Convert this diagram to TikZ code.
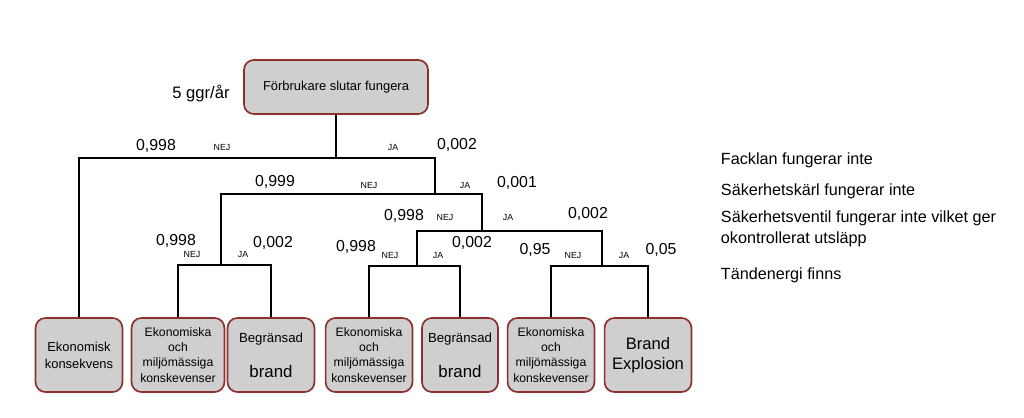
\documentclass[tikz,border=0pt]{standalone}
\usepackage{fontspec}
\setmainfont{Liberation Sans}
\usetikzlibrary{positioning}
\definecolor{boxfill}{HTML}{CFCFCF}
\definecolor{boxedge}{HTML}{8E2F2F}

\begin{document}
\begin{tikzpicture}[x=0.025cm,y=-0.025cm,
  outcome/.style={draw=boxedge,line width=1.2pt,fill=boxfill,rounded corners=7pt,minimum width=2.17cm,minimum height=1.85cm,align=center,inner sep=1pt,font=\fontsize{8.7}{10.8}\selectfont},
  prob/.style={font=\fontsize{11.3}{13}\selectfont},
  answer/.style={font=\fontsize{6.3}{7}\selectfont},
  event/.style={anchor=west,align=left,font=\fontsize{11.5}{14.5}\selectfont},
  branch/.style={line width=1.1pt}]
  \useasboundingbox (0,0) rectangle (1024,418);

  % top event
  \node[outcome,minimum width=4.6cm,minimum height=1.35cm,font=\fontsize{9.2}{11}\selectfont] (start) at (336,87) {Förbrukare slutar fungera};
  \node[prob,font=\fontsize{11.8}{13}\selectfont] (freq) at (201,94) {5 ggr/år};

  % outcomes
  \node[outcome,font=\fontsize{9.2}{11}\selectfont] (cons1) at (79,355) {Ekonomisk\\[1pt]konsekvens};
  \node[outcome,minimum width=2.32cm] (cons2) at (178,355) {Ekonomiska\\och\\miljömässiga\\konskevenser};
  \node[outcome] (fire1) at (271,355) {{\fontsize{9.4}{11}\selectfont Begränsad}\\[14pt]{\fontsize{12}{14}\selectfont brand}};
  \node[outcome] (cons3) at (369,355) {Ekonomiska\\och\\miljömässiga\\konskevenser};
  \node[outcome,minimum width=1.9cm] (fire2) at (460,355) {{\fontsize{9.4}{11}\selectfont Begränsad}\\[14pt]{\fontsize{12}{14}\selectfont brand}};
  \node[outcome] (cons4) at (551,355) {Ekonomiska\\och\\miljömässiga\\konskevenser};
  \node[outcome,font=\fontsize{11.8}{14}\selectfont] (blast) at (648,355) {Brand\\Explosion};

  % branch points
  \coordinate (j1) at (336,158);
  \coordinate (j2) at (435,194);
  \coordinate (j3) at (221,265);
  \coordinate (j4) at (482,231);
  \coordinate (j5) at (417,266);
  \coordinate (j6) at (602,266);

  \draw[branch] (start) -- (j1);
  \draw[branch] (cons1) |- (j1) -| (j2);
  \draw[branch] (j3) |- (j2) -| (j4);
  \draw[branch] (cons2) |- (j3) -| (fire1);
  \draw[branch] (j5) |- (j4) -| (j6);
  \draw[branch] (cons3) |- (j5) -| (fire2);
  \draw[branch] (cons4) |- (j6) -| (blast);

  % probabilities
  \node[prob] (p1n) at (156,146) {0,998};
  \node[answer] (a1n) at (222,147) {NEJ};
  \node[answer] (a1j) at (393,147) {JA};
  \node[prob] (p1j) at (457,145) {0,002};

  \node[prob] (p2n) at (275,182) {0,999};
  \node[answer] (a2n) at (369,185) {NEJ};
  \node[answer] (a2j) at (465,185) {JA};
  \node[prob] (p2j) at (517,183) {0,001};

  \node[prob] (p3n) at (176,241) {0,998};
  \node[answer] (a3n) at (192,254) {NEJ};
  \node[answer] (a3j) at (243,254) {JA};
  \node[prob] (p3j) at (273,243) {0,002};

  \node[prob] (p4n) at (404,216) {0,998};
  \node[answer] (a4n) at (445,217) {NEJ};
  \node[answer] (a4j) at (508,217) {JA};
  \node[prob] (p4j) at (588,214) {0,002};

  \node[prob] (p5n) at (356,247) {0,998};
  \node[answer] (a5n) at (390,255) {NEJ};
  \node[answer] (a5j) at (438,255) {JA};
  \node[prob] (p5j) at (472,243) {0,002};

  \node[prob] (p6n) at (535,250) {0,95};
  \node[answer] (a6n) at (573,255) {NEJ};
  \node[answer] (a6j) at (624,255) {JA};
  \node[prob] (p6j) at (661,250) {0,05};

  % events per level
  \node[event] (ev1) at (716,160) {Facklan fungerar inte};
  \node[event] (ev2) at (716,191) {Säkerhetskärl fungerar inte};
  \node[event] (ev3) at (716,229) {Säkerhetsventil fungerar inte vilket ger\\okontrollerat utsläpp};
  \node[event] (ev4) at (716,275) {Tändenergi finns};
\end{tikzpicture}
\end{document}
